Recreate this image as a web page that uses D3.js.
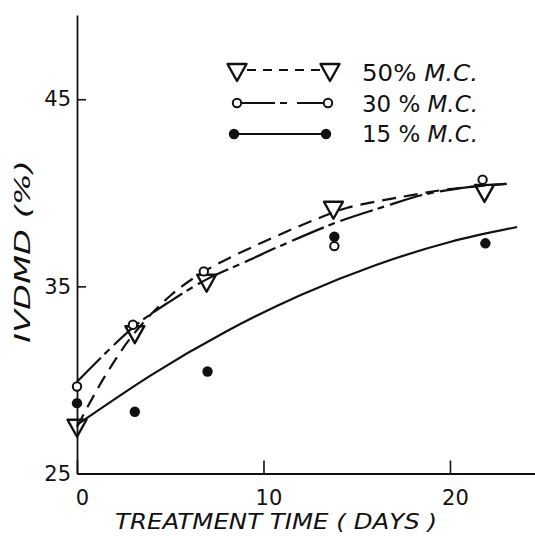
<!DOCTYPE html>
<html><head><meta charset="utf-8">
<script src="https://cdn.jsdelivr.net/npm/d3@7"></script>
<style>body{margin:0;background:#fff}svg{display:block}</style>
</head><body>
<svg id="c" width="535" height="536"></svg>
<script>
// ---- data ----
const days50 = [0, 3.1, 6.95, 13.75, 21.85];
const ivdmd50 = [27.55, 32.55, 35.3, 39.2, 40.1];
const days30 = [0, 3.0, 6.8, 13.8, 21.75];
const ivdmd30 = [29.65, 32.95, 35.8, 37.15, 40.7];
const days15 = [0, 3.1, 7.0, 13.8, 21.9];
const ivdmd15 = [28.76, 28.3, 30.45, 37.65, 37.3];

// fitted (hand-drawn) curves
const fitDays50 = [0, 1.5, 3, 5, 7, 10.5, 12.85, 14.5, 17.3, 20, 23.05];
const fitVals50 = [27.5, 30.2, 32.4, 34.5, 35.9, 37.6, 38.6, 39.2, 39.76, 40.2, 40.48];
const fitDays30 = [0, 3, 5, 7, 9, 11, 14, 16.6, 18.6, 21, 23.05];
const fitVals30 = [29.9, 32.8, 34.2, 35.4, 36.3, 37.2, 38.45, 39.3, 39.9, 40.3, 40.48];
const fitDays15 = [0, 4, 8, 12, 16, 20, 23.6];
const fitVals15 = [27.6, 30.27, 32.59, 34.54, 36.13, 37.37, 38.17];

const xTicks = [0, 10, 20];
const yTicks = [25, 35, 45];
const seriesNames = ["50", "30", "15"];
const xTitle = "TREATMENT  TIME ( DAYS )";
const yTitle = "IVDMD   (%)";

// ---- chart ----
const svg = d3.select("#c");
const FONT = "DejaVu Sans, Liberation Sans, sans-serif";
const x = d3.scaleLinear().domain([0, 24.56]).range([77, 535]);
const y = d3.scaleLinear().domain([25, 49.5]).range([473.5, 15]);

const xAxis = svg.append("g").attr("transform", `translate(0,${y(25)})`)
  .call(d3.axisBottom(x).tickValues(xTicks).tickSizeInner(-13).tickSizeOuter(0).tickPadding(17));
const yAxis = svg.append("g").attr("transform", `translate(${x(0)},0)`)
  .call(d3.axisLeft(y).tickValues(yTicks).tickSizeInner(-9).tickSizeOuter(0).tickPadding(6));
[xAxis, yAxis].forEach(g => {
  g.select(".domain").attr("stroke", "#111").attr("stroke-width", 1.8);
  g.selectAll(".tick line").attr("stroke", "#111").attr("stroke-width", 1.6);
  g.selectAll(".tick text").attr("fill", "#111").style("font-family", FONT).style("font-size", "21px");
});
xAxis.selectAll(".tick text").attr("dx", 5);

svg.append("text").attr("x", 115).attr("y", 529)
  .attr("textLength", 322).attr("lengthAdjust", "spacingAndGlyphs")
  .style("font-family", FONT).style("font-size", "22px").style("font-style", "italic").attr("fill", "#111")
  .text(xTitle);
svg.append("text").attr("transform", "translate(30,343) rotate(-90)")
  .attr("textLength", 183).attr("lengthAdjust", "spacingAndGlyphs")
  .style("font-family", FONT).style("font-size", "21px").style("font-style", "italic").attr("fill", "#111")
  .text(yTitle);

const zip = (a, b) => a.map((v, i) => [v, b[i]]);
const lineCR = d3.line().x(d => x(d[0])).y(d => y(d[1])).curve(d3.curveCatmullRom.alpha(0.5));
const lineN = d3.line().x(d => x(d[0])).y(d => y(d[1])).curve(d3.curveNatural);

svg.append("path").datum(zip(fitDays15, fitVals15)).attr("d", lineN)
  .attr("fill", "none").attr("stroke", "#111").attr("stroke-width", 2.2);
svg.append("path").datum(zip(fitDays30, fitVals30)).attr("d", lineCR)
  .attr("fill", "none").attr("stroke", "#111").attr("stroke-width", 2.2).attr("stroke-dasharray", "34,5,7,6");
svg.append("path").datum(zip(fitDays50, fitVals50)).attr("d", lineCR)
  .attr("fill", "none").attr("stroke", "#111").attr("stroke-width", 2.2).attr("stroke-dasharray", "14,8");

const tri = "M-9.5,-6L9.5,-6L0,11Z";
svg.append("g").selectAll("path").data(zip(days50, ivdmd50)).join("path")
  .attr("d", tri).attr("transform", d => `translate(${x(d[0])},${y(d[1])})`)
  .attr("fill", "none").attr("stroke", "#111").attr("stroke-width", 2.4).attr("stroke-linejoin", "round");
svg.append("g").selectAll("circle").data(zip(days30, ivdmd30)).join("circle")
  .attr("cx", d => x(d[0])).attr("cy", d => y(d[1])).attr("r", 4.2)
  .attr("fill", "#fff").attr("stroke", "#111").attr("stroke-width", 2);
svg.append("g").selectAll("circle").data(zip(days15, ivdmd15)).join("circle")
  .attr("cx", d => x(d[0])).attr("cy", d => y(d[1])).attr("r", 5.2).attr("fill", "#111");

// ---- legend ----
const lg = svg.append("g");
lg.append("line").attr("x1", 247).attr("x2", 322).attr("y1", 70).attr("y2", 70)
  .attr("stroke", "#111").attr("stroke-width", 2.2).attr("stroke-dasharray", "9,7");
[237, 330].forEach(cx => lg.append("path").attr("d", tri).attr("transform", `translate(${cx},70)`)
  .attr("fill", "#fff").attr("stroke", "#111").attr("stroke-width", 2.4).attr("stroke-linejoin", "round"));
lg.append("line").attr("x1", 241).attr("x2", 324).attr("y1", 103).attr("y2", 103)
  .attr("stroke", "#111").attr("stroke-width", 2).attr("stroke-dasharray", "34,5,7,10,40");
[237, 328].forEach(cx => lg.append("circle").attr("cx", cx).attr("cy", 103).attr("r", 4.2)
  .attr("fill", "#fff").attr("stroke", "#111").attr("stroke-width", 2));
lg.append("line").attr("x1", 234).attr("x2", 326).attr("y1", 134).attr("y2", 134)
  .attr("stroke", "#111").attr("stroke-width", 2.2);
[234, 326].forEach(cx => lg.append("circle").attr("cx", cx).attr("cy", 134).attr("r", 5.2).attr("fill", "#111"));

const ly = [81, 112, 141.5];
seriesNames.forEach((n, i) => {
  const t = lg.append("text").attr("x", 362).attr("y", ly[i])
    .attr("textLength", 116).attr("lengthAdjust", "spacingAndGlyphs")
    .style("font-family", FONT).style("font-size", "23px").attr("fill", "#111");
  t.append("tspan").text(n + (i === 0 ? "%  " : " %  "));
  t.append("tspan").style("font-style", "italic").text("M.C.");
});
</script>
</body></html>
